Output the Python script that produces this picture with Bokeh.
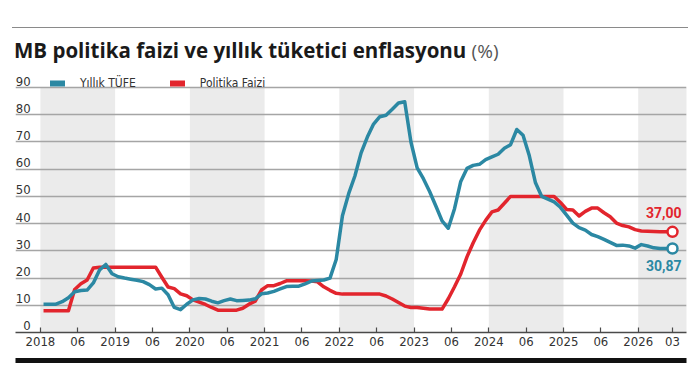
from bokeh.plotting import figure
from bokeh.models import (ColumnDataSource, FixedTicker, LinearAxis, Range1d,
                          Legend, LegendItem, Div)
from bokeh.layouts import column
from bokeh.embed import file_html
from bokeh.resources import INLINE
from bokeh.core.properties import value

# ---------------- data (monthly, starting January 2018) ----------------
tufe = [10.4, 10.4, 10.4, 11.3, 12.8, 15.0, 15.4, 15.6, 18.2, 23.0, 25.0, 21.6,
        20.5, 20.0, 19.6, 19.2, 18.7, 17.6, 16.0, 16.3, 13.9, 9.2, 8.4, 10.4,
        12.0, 12.5, 12.3, 11.5, 10.9, 11.7, 12.3, 11.7, 11.8, 11.9, 12.4, 14.2,
        14.5, 15.1, 16.0, 16.9, 17.0, 17.0, 17.9, 18.9, 19.1, 19.3, 20.0, 26.8,
        42.9, 51.0, 57.5, 66.0, 71.8, 76.6, 79.3, 79.8, 82.0, 84.3, 84.8, 70.0,
        60.5, 56.5, 51.8, 46.5, 41.0, 38.3, 45.5, 55.5, 60.3, 61.4, 61.8, 63.5,
        64.5, 65.5, 67.7, 69.0, 74.6, 72.5, 65.0, 55.0, 50.0, 49.0, 48.0, 46.0,
        43.1, 40.2, 38.5, 37.6, 36.0, 35.2, 34.2, 33.1, 32.0, 32.1, 31.8, 31.0,
        32.3, 31.8, 31.1, 30.9, 30.9, 30.87]
faiz = [8.0, 8.0, 8.0, 8.0, 8.0, 15.8, 17.9, 19.3, 23.7, 24.0, 24.0, 24.0,
        24.0, 24.0, 24.0, 24.0, 24.0, 24.0, 24.0, 20.3, 16.7, 16.1, 14.2, 13.5,
        12.0, 11.2, 10.3, 9.2, 8.2, 8.2, 8.2, 8.2, 8.9, 10.4, 11.5, 15.6,
        17.2, 17.2, 18.0, 19.0, 19.0, 19.0, 19.0, 18.9, 18.6, 16.8, 15.5, 14.4,
        14.1, 14.1, 14.1, 14.1, 14.1, 14.1, 14.1, 13.4, 12.3, 11.0, 9.7, 9.2,
        9.2, 8.9, 8.6, 8.6, 8.6, 12.4, 16.8, 21.5, 27.8, 33.0, 37.6, 41.2,
        44.3, 45.0, 47.5, 50.0, 50.0, 50.0, 50.0, 50.0, 50.0, 50.0, 50.0, 47.8,
        45.2, 45.0, 42.8, 44.5, 45.7, 45.7, 44.0, 42.5, 40.2, 39.3, 38.8, 37.8,
        37.3, 37.2, 37.1, 37.0, 37.0, 37.00]

years = [2018, 2019, 2020, 2021, 2022, 2023, 2024, 2025, 2026]
mid_label = "06"
last_label = "03"
shade_years = [2018, 2020, 2022, 2024, 2026]
y_ticks = [0, 10, 20, 30, 40, 50, 60, 70, 80, 90]
series_names = ["Yıllık TÜFE", "Politika Faizi"]
title_text = "MB politika faizi ve yıllık tüketici enflasyonu"
title_unit = "(%)"

TEAL = "#2b88a3"
RED = "#e2252d"
BAND = "#ebebeb"
FONT = "DejaVu Sans Condensed"
FONT2 = "Roboto"

# month index (0 = Jan 2018); points sit at mid-month
months = list(range(len(tufe)))
xs = [m + 0.5 for m in months]
src = ColumnDataSource(dict(x=xs, tufe=tufe, faiz=faiz))

p = figure(width=700, height=304, x_range=Range1d(-4.0, 103.75), y_range=Range1d(0, 97),
           output_backend="svg", toolbar_location=None,
           min_border_left=15, min_border_right=14, min_border_top=4, min_border_bottom=36,
           outline_line_color=None, background_fill_color="white", border_fill_color="white")

# shaded alternate years
band_left = [12 * (y - years[0]) for y in shade_years]
band_right = [b + 12 for b in band_left]
bands = p.quad(left=band_left, right=band_right, bottom=y_ticks[0], top=y_ticks[-1],
               fill_color=BAND, line_color=None)
bands.level = "image"

# grid
p.xgrid.visible = False
p.ygrid.ticker = FixedTicker(ticks=y_ticks)
p.ygrid.grid_line_color = "#a5a5a5"
p.ygrid.grid_line_width = 1.3
p.yaxis.visible = False

# y labels sitting just above their grid lines
p.extra_y_ranges = {"lbl": Range1d(-2.4, 97 - 2.4)}
lab_axis = LinearAxis(y_range_name="lbl", ticker=FixedTicker(ticks=y_ticks), fixed_location=-1.25,
                      axis_line_color=None, major_tick_in=0, major_tick_out=0,
                      minor_tick_in=0, minor_tick_out=0, major_label_standoff=2,
                      major_label_text_font=FONT, major_label_text_font_size="13px",
                      major_label_text_color="#333333")
p.add_layout(lab_axis, "left")

# x axis
year_ticks = [12 * (y - years[0]) for y in years]
mid_ticks = [t + 6 for t in year_ticks[:-1]]
ticks = year_ticks + mid_ticks + [xs[-1]]
overrides = {t: str(y) for t, y in zip(year_ticks, years)}
overrides.update({t: mid_label for t in mid_ticks})
overrides[xs[-1]] = last_label
xa = p.xaxis[0]
xa.ticker = FixedTicker(ticks=ticks)
xa.major_label_overrides = overrides
xa.axis_line_color = "#4a4a4a"
xa.axis_line_width = 1.5
xa.major_tick_in = 5
xa.major_tick_out = 0
xa.major_tick_line_color = "#4a4a4a"
xa.major_tick_line_width = 1.2
xa.minor_tick_in = 0
xa.minor_tick_out = 0
xa.major_label_standoff = 4
xa.major_label_text_font = FONT
xa.major_label_text_font_size = "13px"
xa.major_label_text_color = "#333333"
xa.axis_label = " "
xa.axis_label_standoff = 0
xa.axis_label_text_font_size = "8px"

# thick black rule below the axis
bar_axis = LinearAxis(ticker=FixedTicker(ticks=[]), axis_line_color="#111111", axis_line_width=5,
                      major_tick_in=0, major_tick_out=0, minor_tick_in=0, minor_tick_out=0,
                      major_label_text_font_size="0px")
p.add_layout(bar_axis, "below")

# lines
p.line("x", "faiz", source=src, line_color=RED, line_width=3.5, line_join="round")
p.line("x", "tufe", source=src, line_color=TEAL, line_width=3.5, line_join="round")

# end markers
p.scatter(x=[xs[-1]], y=[faiz[-1]], size=10, fill_color="white", line_color=RED, line_width=2.5)
p.scatter(x=[xs[-1]], y=[tufe[-1]], size=10, fill_color="white", line_color=TEAL, line_width=2.5)

def fmt(v):
    return f"{v:.2f}".replace(".", ",")

p.text(x=[xs[-1]], y=[faiz[-1]], text=[fmt(faiz[-1])], x_offset=9, y_offset=-14,
       text_align="right", text_baseline="bottom", text_font=value(FONT2),
       text_font_style="bold", text_font_size="14px", text_color=RED)
p.text(x=[xs[-1]], y=[tufe[-1]], text=[fmt(tufe[-1])], x_offset=9, y_offset=12,
       text_align="right", text_baseline="top", text_font=value(FONT2),
       text_font_style="bold", text_font_size="14px", text_color=TEAL)

# legend (thick rounded swatches); legend-only renderers hold a single NaN point
nan = float("nan")
leg_t = p.line(x=[nan], y=[nan], line_color=TEAL, line_width=6, line_cap="round")
leg_r = p.line(x=[nan], y=[nan], line_color=RED, line_width=6, line_cap="round")
legend = Legend(items=[LegendItem(label=series_names[0], renderers=[leg_t]),
                       LegendItem(label=series_names[1], renderers=[leg_r])],
                orientation="horizontal", location=(35, 241),
                glyph_width=15, glyph_height=16, label_standoff=15, spacing=34,
                padding=0, margin=0, border_line_color=None, background_fill_alpha=0,
                label_text_font=FONT, label_text_font_size="12px", label_text_color="#333333",
                label_height=16)
p.add_layout(legend)

title = Div(text=(
    '<div style="width:676px; padding-top:9px; padding-left:2px; '
    'font-family:\'Open Sans\'; font-size:20.5px; font-weight:bold; color:#1a1a1a; '
    'line-height:26px; white-space:nowrap">' + title_text +
    ' <span style="font-weight:normal; color:#555555; font-size:19px">' + title_unit + '</span></div>'),
    width=676, height=37, margin=(27, 0, 0, 12),
    styles={"border-top": "1px solid #8a8a8a", "box-sizing": "border-box"})

layout = column(title, p, spacing=0)
open("out.html", "w").write(file_html(layout, INLINE))
